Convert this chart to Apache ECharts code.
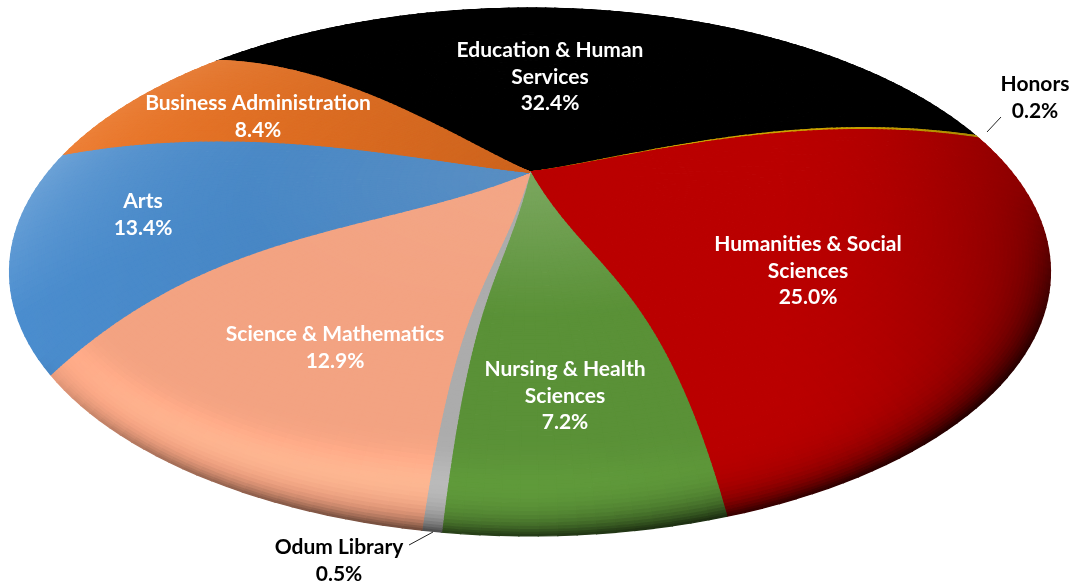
<!DOCTYPE html>
<html><head><meta charset="utf-8">
<style>html,body{margin:0;padding:0;background:#fff}#c{width:1075px;height:586px}</style>
<script src="https://cdn.jsdelivr.net/npm/echarts@6/dist/echarts.min.js"></script>
</head><body><div id="c"></div>
<script>
// ---- data ----
const categories = ['Education & Human\nServices','Honors','Humanities & Social\nSciences','Nursing & Health\nSciences','Odum Library','Science & Mathematics','Arts','Business Administration'];
const values = [32.4,0.2,25.0,7.2,0.5,12.9,13.4,8.4];

// ---- styles ----
const baseColors = [[0,0,0],[205,165,0],[186,0,0],[90,145,55],[172,172,172],[243,163,130],[68,128,187],[205,100,30]];
const apexLight  = [0,0,0,.2,0,.04,.12,0];
const rimLight   = [0,0,0,0,0,0,.2,.1];
const bandGain   = [0,0,0,.07,.09,.13,0,0];
const leftGain   = [0,0,0,0,0,0,.1,.16];
const labelColors = ['#fff','#000','#fff','#fff','#000','#fff','#fff','#fff'];
const labelCenters = [[550,50],[1035,84],[808,244],[565,369],[339,547],[335,334],[143,201],[258,103]];
const leaders = [[[987,132],[1001,117]],[[433,532],[409,545]]];
const FONT_SIZE = 21, LINE_H = 26.8;

// ---- perspective pie geometry ----
const AX=530, AY=172, A=481.6, B=226, K=0.379, ECX=530.5, ECY=272, EA=520.5, EB=264;
const TH0=-51.8, D2R=Math.PI/180;
const total = values.reduce((a,b)=>a+b,0);
const thetaOf = f => { const p=TH0+360*f; return (p+6.2+9.7*Math.cos((p-85)*D2R))*D2R; };
function rimPoint(th){ const u=Math.sin(th), v=Math.cos(th), d=1+K*v; return {x:AX+A*u/d, y:AY-B*v/d, v}; }
function surf(s,th){
  const E=rimPoint(th), back=Math.max(0,-E.v), h=20+38*back*back;
  const a=1.4+.5*Math.min(1,back*1.5), pk=a/(a+1);
  const g=Math.pow(s,a)*(1-s)/(Math.pow(pk,a)*(1-pk));
  return {x:AX+s*(E.x-AX), y:AY+s*(E.y-AY)-h*g, E};
}
function colorAt(i,p,s){
  const E=p.E; let nx=(E.x-ECX)/(EA*EA), ny=(E.y-ECY)/(EB*EB); const nl=Math.hypot(nx,ny); nx/=nl; ny/=nl;
  const t=(1-s)*Math.hypot(E.x-AX,E.y-AY);
  const down=Math.max(0,nx*.55+ny*.83);
  const rim=Math.pow(down,1.2)*Math.exp(-t/(6+14*Math.max(0,nx)))*.78;
  const right=p.x>760?Math.pow((p.x-760)/290,2)*.3:0;
  const band=bandGain[i]*Math.pow(Math.max(0,ny),2)*Math.exp(-Math.pow((t-24)/17,2));
  const light=rimLight[i]*Math.exp(-t/90)*Math.max(0,-nx*.35-ny+.0)+apexLight[i]*Math.max(0,1-s/.55);
  const gain=(1+band)*(1+leftGain[i]*(AX-p.x)/500);
  return 'rgb('+baseColors[i].map(c=>{
    let v=Math.min(255,c*gain); v=v+(255-v)*light; v=v*(1-rim)*(1-right); return Math.round(v);
  }).join(',')+')';
}
const RBINS=90, radii=[]; for(let i=0;i<=RBINS;i++) radii.push(1-Math.pow(1-i/RBINS,1.4));

const cum=[0]; values.forEach(v=>cum.push(cum[cum.length-1]+v));

function renderSlice(params,api){
  const i=params.dataIndex, a0=thetaOf(cum[i]/total), a1=thetaOf(cum[i+1]/total);
  const n=Math.max(1,Math.ceil((a1-a0)/(1.5*D2R))), children=[];
  for(let j=0;j<n;j++){
    const t0=a0+(a1-a0)*j/n, t1=a0+(a1-a0)*(j+1)/n;
    for(let r=0;r<RBINS;r++){
      const s0=radii[r], s1=radii[r+1];
      const p00=surf(s0,t0),p01=surf(s0,t1),p10=surf(s1,t0),p11=surf(s1,t1),m=surf((s0+s1)/2,(t0+t1)/2);
      const col=colorAt(i,m,(s0+s1)/2);
      children.push({type:'polygon',silent:true,shape:{points:[[p00.x,p00.y],[p10.x,p10.y],[p11.x,p11.y],[p01.x,p01.y]]},
        style:{fill:col,stroke:col,lineWidth:1.3}});
    }
  }
  return {type:'group',children};
}
function renderLabel(params,api){
  const i=params.dataIndex, lines=categories[i].split('\n').concat([values[i].toFixed(1)+'%']), c=labelCenters[i];
  return {type:'group',children:lines.map((l,k)=>({type:'text',silent:true,style:{
    text:l,x:c[0],y:c[1]+k*LINE_H,textAlign:'center',textVerticalAlign:'middle',
    font:'bold '+FONT_SIZE+'px Lato, "Open Sans", sans-serif',fill:labelColors[i]}}))};
}
function renderLeader(params,api){
  const l=leaders[params.dataIndex];
  return {type:'line',silent:true,shape:{x1:l[0][0],y1:l[0][1],x2:l[1][0],y2:l[1][1]},style:{stroke:'#222',lineWidth:1}};
}
const data=categories.map((c,i)=>({name:c.replace('\n',' '),value:values[i]}));
const chart=echarts.init(document.getElementById('c'),null,{renderer:'canvas'});
chart.setOption({
  animation:false,backgroundColor:'#fff',
  series:[
    {type:'custom',coordinateSystem:'none',silent:true,clip:false,renderItem:renderSlice,data,z:1},
    {type:'custom',coordinateSystem:'none',silent:true,clip:false,renderItem:renderLeader,data:leaders.map((_,i)=>i),z:2},
    {type:'custom',coordinateSystem:'none',silent:true,clip:false,renderItem:renderLabel,data,z:3}
  ]
});
</script></body></html>
